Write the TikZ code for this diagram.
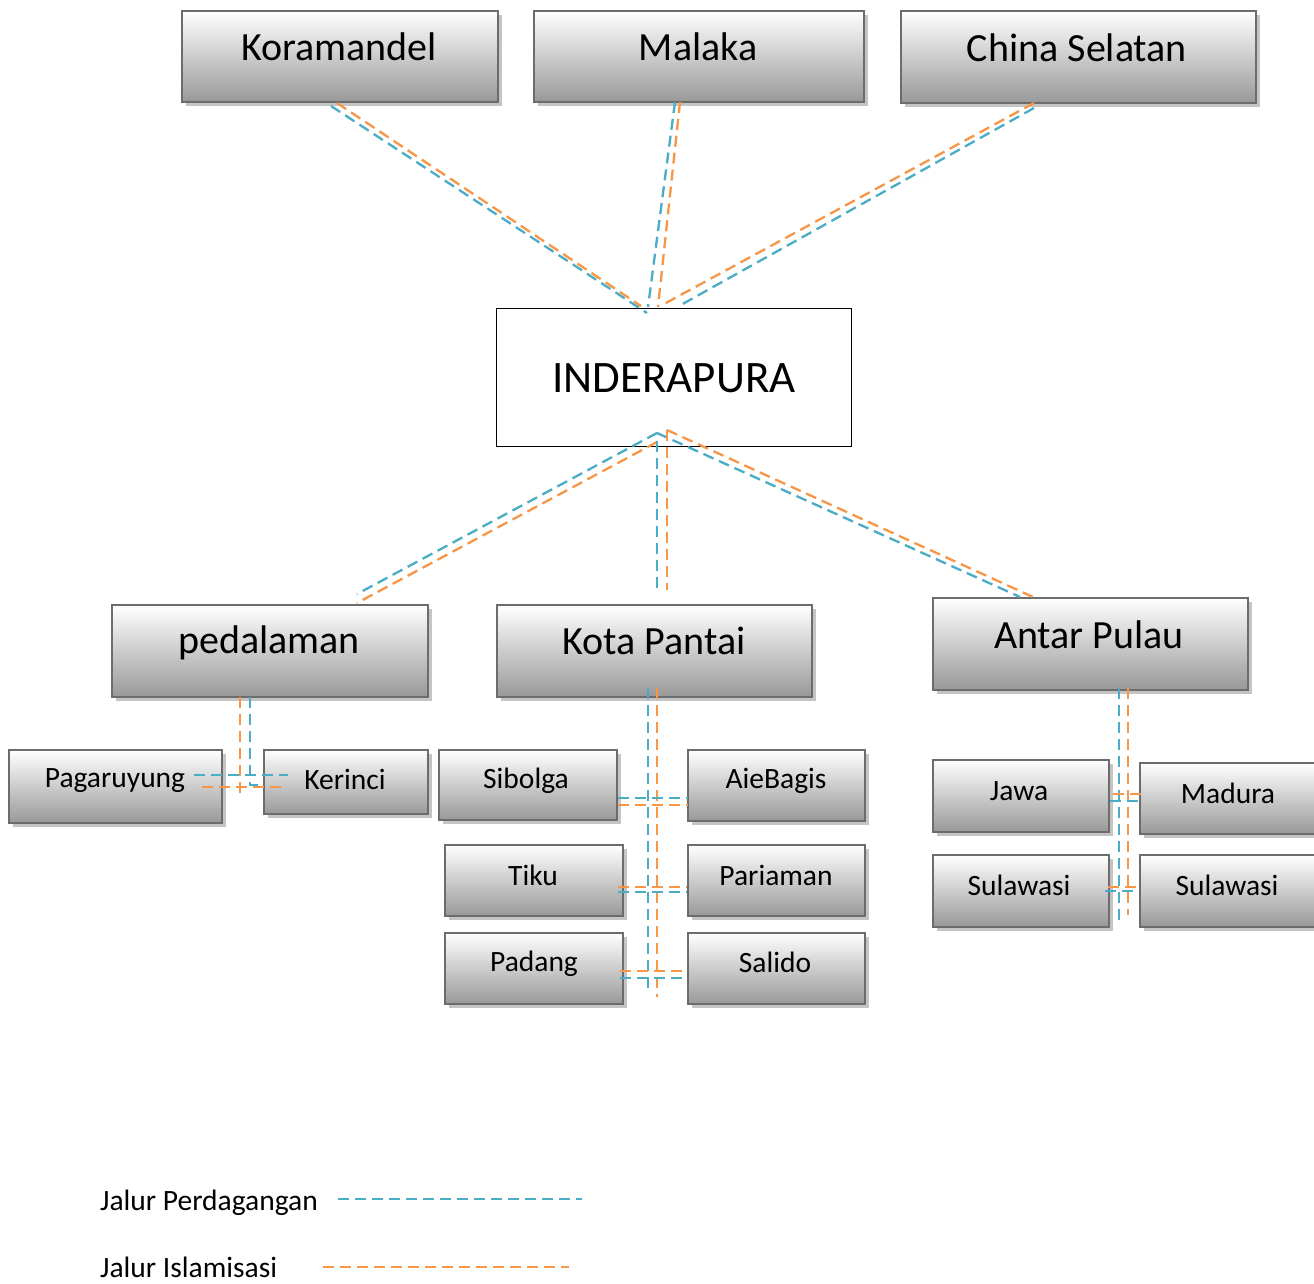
\documentclass[tikz,border=0pt]{standalone}
\usepackage{fontspec}
\setmainfont{Carlito}
\usetikzlibrary{shadows}
\definecolor{tblue}{RGB}{75,172,198}
\definecolor{torange}{RGB}{247,150,70}
\definecolor{bordergray}{RGB}{108,108,108}
\definecolor{botgray}{RGB}{152,152,152}
\definecolor{shadowgray}{RGB}{196,196,196}
\tikzset{
  gbox/.style={rectangle, draw=bordergray, line width=2.4pt, top color=white, bottom color=botgray,
    drop shadow={shadow xshift=4pt, shadow yshift=-4pt, fill=shadowgray, opacity=1},
    inner sep=0pt, anchor=north west},
  wbox/.style={rectangle, draw=black, line width=1.4pt, fill=white, inner sep=0pt, anchor=north west},
  trade/.style={draw=tblue, line width=2.3pt, dash pattern=on 11pt off 6pt},
  islam/.style={draw=torange, line width=2.3pt, dash pattern=on 11pt off 6pt},
  bigtxt/.style={font=\fontsize{40}{44}\selectfont, inner sep=0pt},
  hugetxt/.style={font=\fontsize{45}{50}\selectfont, inner sep=0pt},
  smalltxt/.style={font=\fontsize{29.5}{33}\selectfont, inner sep=0pt},
}
\begin{document}
\begin{tikzpicture}[x=1pt, y=-1pt]
\useasboundingbox[fill=white] (0,0) rectangle (1314,1284);

% ---- boxes ----
\node[gbox, minimum width=316pt, minimum height=91pt] (kor) at (181,10) {};
\node[gbox, minimum width=330pt, minimum height=91pt] (mal) at (533,10) {};
\node[gbox, minimum width=355pt, minimum height=92pt] (chi) at (900,10) {};
\node[wbox, minimum width=355pt, minimum height=138pt] (ind) at (496,308) {};
\node[gbox, minimum width=316pt, minimum height=92pt] (ped) at (111,604) {};
\node[gbox, minimum width=315pt, minimum height=92pt] (kot) at (496,604) {};
\node[gbox, minimum width=315pt, minimum height=92pt] (ant) at (932,597) {};
\node[gbox, minimum width=213pt, minimum height=73pt] (pag) at (8,749) {};
\node[gbox, minimum width=164pt, minimum height=64pt] (ker) at (263,749) {};
\node[gbox, minimum width=178pt, minimum height=70pt] (sib) at (438,749) {};
\node[gbox, minimum width=177pt, minimum height=71pt] (aie) at (687,749) {};
\node[gbox, minimum width=178pt, minimum height=71pt] (tik) at (444,844) {};
\node[gbox, minimum width=177pt, minimum height=71pt] (par) at (687,844) {};
\node[gbox, minimum width=178pt, minimum height=71pt] (pad) at (444,932) {};
\node[gbox, minimum width=177pt, minimum height=71pt] (sal) at (687,932) {};
\node[gbox, minimum width=176pt, minimum height=72pt] (jaw) at (932,759) {};
\node[gbox, minimum width=200pt, minimum height=71pt] (mad) at (1139,762) {};
\node[gbox, minimum width=176pt, minimum height=72pt] (sula) at (932,854) {};
\node[gbox, minimum width=200pt, minimum height=72pt] (sulb) at (1139,854) {};

% ---- texts ----
\node[bigtxt] (korT) at (339,47) {Koramandel};
\node[bigtxt] (malT) at (698,47) {Malaka};
\node[bigtxt] (chiT) at (1077,48) {China Selatan};
\node[hugetxt] (indT) at (674,378) {INDERAPURA};
\node[bigtxt] (pedT) at (269,643) {pedalaman};
\node[bigtxt] (kotT) at (654,641) {Kota Pantai};
\node[bigtxt] (antT) at (1089,635) {Antar Pulau};
\node[smalltxt] (pagT) at (115,781) {Pagaruyung};
\node[smalltxt] (kerT) at (345,779) {Kerinci};
\node[smalltxt] (sibT) at (526,781) {Sibolga};
\node[smalltxt] (aieT) at (776,781) {AieBagis};
\node[smalltxt] (tikT) at (533,875) {Tiku};
\node[smalltxt] (parT) at (776,875) {Pariaman};
\node[smalltxt] (padT) at (534,964) {Padang};
\node[smalltxt] (salT) at (775,962) {Salido};
\node[smalltxt] (jawT) at (1019,791) {Jawa};
\node[smalltxt] (madT) at (1228,793) {Madura};
\node[smalltxt] (sulaT) at (1019,885) {Sulawasi};
\node[smalltxt] (sulbT) at (1227,885) {Sulawasi};

% ---- connector end points ----
% top
\coordinate (kO1) at (337,103); \coordinate (kO2) at (641,306);
\coordinate (kB1) at (331,106); \coordinate (kB2) at (647,313);
\coordinate (mB1) at (675,102); \coordinate (mB2) at (648,307);
\coordinate (mO1) at (680,102); \coordinate (mO2) at (658,307);
\coordinate (cO1) at (1034,103); \coordinate (cO2) at (664,304);
\coordinate (cB1) at (1034,108); \coordinate (cB2) at (679,306);
% middle
\coordinate (iB) at (657,433); \coordinate (iO) at (657,442); \coordinate (iO2) at (667,430);
\coordinate (pB) at (357,594); \coordinate (pO) at (357,603);
\coordinate (aB) at (1020,597); \coordinate (aO) at (1033,597);
\coordinate (vB1) at (657,441); \coordinate (vB2) at (657,592);
\coordinate (vO2) at (667,590);
% pedalaman
\coordinate (pvO1) at (240,697); \coordinate (pvO2) at (240,796);
\coordinate (phO1) at (202,787); \coordinate (phO2) at (281,787);
\coordinate (pvB1) at (250,697); \coordinate (pvB2) at (250,785); \coordinate (pvB3) at (263,785);
\coordinate (phB1) at (194,775); \coordinate (phB2) at (288,775);
% kota pantai
\coordinate (kvB1) at (648,688); \coordinate (kvB2) at (648,990);
\coordinate (kvO1) at (657,688); \coordinate (kvO2) at (657,997);
\coordinate (s1B) at (618,798); \coordinate (s2B) at (688,798);
\coordinate (s1O) at (618,805); \coordinate (s2O) at (688,805);
\coordinate (t1O) at (618,887); \coordinate (t2O) at (687,887);
\coordinate (t1B) at (618,892); \coordinate (t2B) at (687,892);
\coordinate (d1O) at (620,971); \coordinate (d2O) at (687,971);
\coordinate (d1B) at (620,978); \coordinate (d2B) at (687,978);
% antar pulau
\coordinate (avB1) at (1119,688); \coordinate (avB2) at (1119,923);
\coordinate (avO1) at (1128,688); \coordinate (avO2) at (1128,915);
\coordinate (j1O) at (1113,794); \coordinate (j2O) at (1142,794);
\coordinate (j1B) at (1110,801); \coordinate (j2B) at (1139,801);
\coordinate (u1O) at (1108,887); \coordinate (u2O) at (1137,887);
\coordinate (u1B) at (1105,891); \coordinate (u2B) at (1133,891);

% ---- connectors ----
\draw[islam] (kO1) -- (kO2);
\draw[trade] (kB1) -- (kB2);
\draw[trade] (mB1) -- (mB2);
\draw[islam] (mO1) -- (mO2);
\draw[islam] (cO1) -- (cO2);
\draw[trade] (cB1) -- (cB2);

\draw[trade] (iB) -- (pB);
\draw[islam] (iO) -- (pO);
\draw[trade] (iB) -- (aB);
\draw[islam] (iO2) -- (aO);
\draw[trade] (vB1) -- (vB2);
\draw[islam] (iO2) -- (vO2);

\draw[islam] (pvO1) -- (pvO2);
\draw[islam] (phO1) -- (phO2);
\draw[trade] (pvB1) -- (pvB2) -- (pvB3);
\draw[trade] (phB1) -- (phB2);

\draw[trade] (kvB1) -- (kvB2);
\draw[islam] (kvO1) -- (kvO2);
\draw[trade] (s1B) -- (s2B);
\draw[islam] (s1O) -- (s2O);
\draw[islam] (t1O) -- (t2O);
\draw[trade] (t1B) -- (t2B);
\draw[islam] (d1O) -- (d2O);
\draw[trade] (d1B) -- (d2B);

\draw[trade] (avB1) -- (avB2);
\draw[islam] (avO1) -- (avO2);
\draw[islam] (j1O) -- (j2O);
\draw[trade] (j1B) -- (j2B);
\draw[islam] (u1O) -- (u2O);
\draw[trade] (u1B) -- (u2B);

% ---- legend ----
\node[smalltxt, anchor=west] (lgT) at (100,1203) {Jalur Perdagangan};
\node[smalltxt, anchor=west] (lgI) at (100,1267) {Jalur Islamisasi};
\coordinate (lgB1) at (338,1199); \coordinate (lgB2) at (582,1199);
\coordinate (lgO1) at (323,1267); \coordinate (lgO2) at (569,1267);
\draw[trade] (lgB1) -- (lgB2);
\draw[islam] (lgO1) -- (lgO2);
\end{tikzpicture}
\end{document}
